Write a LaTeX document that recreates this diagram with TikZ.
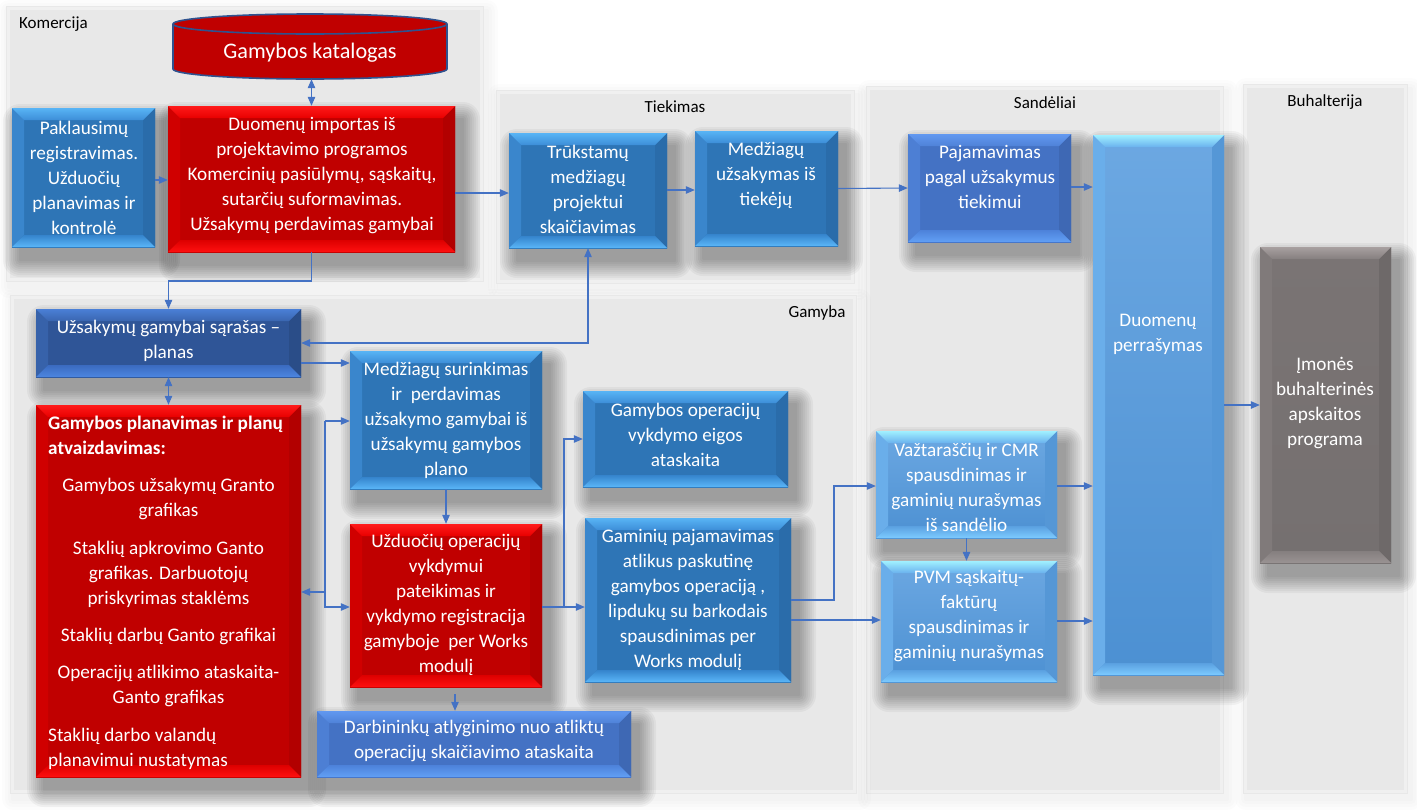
\documentclass[tikz,border=0pt]{standalone}
\usepackage{fontspec}
\setmainfont{Carlito}
\usetikzlibrary{arrows.meta}
\definecolor{arrowc}{HTML}{4472C4}
\definecolor{panelc}{HTML}{E8E8E8}
\definecolor{panelhl}{HTML}{F0F0F0}
\definecolor{katred}{HTML}{C00000}
\definecolor{katline}{HTML}{2F528F}
% blue
\definecolor{blfT}{HTML}{2E75B6}\definecolor{blfB}{HTML}{2E75B6}
\definecolor{blL}{HTML}{3A86CC}\definecolor{blR}{HTML}{2A6CAA}
\definecolor{bltE}{HTML}{58B4F5}\definecolor{bltI}{HTML}{3D8ED8}
\definecolor{blbI}{HTML}{3584CC}\definecolor{blbE}{HTML}{5AB6F8}
% red
\definecolor{rdfT}{HTML}{C00000}\definecolor{rdfB}{HTML}{C00000}
\definecolor{rdL}{HTML}{D00000}\definecolor{rdR}{HTML}{B20000}
\definecolor{rdtE}{HTML}{FF1A1A}\definecolor{rdtI}{HTML}{E80000}
\definecolor{rdbI}{HTML}{DD0000}\definecolor{rdbE}{HTML}{FF1010}
% dark blue
\definecolor{dbfT}{HTML}{2F5597}\definecolor{dbfB}{HTML}{2F5597}
\definecolor{dbL}{HTML}{3762AA}\definecolor{dbR}{HTML}{2A4D88}
\definecolor{dbtE}{HTML}{4A7FD6}\definecolor{dbtI}{HTML}{3A66B0}
\definecolor{dbbI}{HTML}{3B6BC0}\definecolor{dbbE}{HTML}{4D86E0}
% medium blue
\definecolor{mbfT}{HTML}{4472C4}\definecolor{mbfB}{HTML}{4472C4}
\definecolor{mbL}{HTML}{4D7FD4}\definecolor{mbR}{HTML}{3E68B4}
\definecolor{mbtE}{HTML}{6198F0}\definecolor{mbtI}{HTML}{4F82D8}
\definecolor{mbbI}{HTML}{4D82DA}\definecolor{mbbE}{HTML}{62A0F5}
% light blue
\definecolor{lbfT}{HTML}{6CA8E2}\definecolor{lbfB}{HTML}{4C90D2}
\definecolor{lbL}{HTML}{6AAEEA}\definecolor{lbR}{HTML}{5597D6}
\definecolor{lbtE}{HTML}{A0F0FF}\definecolor{lbtI}{HTML}{6AB2EE}
\definecolor{lbbI}{HTML}{5AA0E0}\definecolor{lbbE}{HTML}{7DCBFF}
% gray
\definecolor{grfT}{HTML}{7A7474}\definecolor{grfB}{HTML}{757070}
\definecolor{grL}{HTML}{807A7A}\definecolor{grR}{HTML}{6E6969}
\definecolor{grtE}{HTML}{A8A0A0}\definecolor{grtI}{HTML}{857F7F}
\definecolor{grbI}{HTML}{857F7F}\definecolor{grbE}{HTML}{9A9393}

\newcommand\bvw{12}
\newcommand\boxshadow[4]{%
  \foreach \rr in {1,3,...,17}{%
    \fill[black,opacity=0.04,rounded corners={\rr pt}] ({#1+8-\rr},{#2+13-\rr}) rectangle ({#3+8+\rr},{#4+13+\rr});}}
\newcommand\bevbox[6]{%
  \boxshadow{#2}{#3}{#4}{#5}
  \shade[top color=#6fT, bottom color=#6fB] (#2,#3) rectangle (#4,#5);
  \fill[#6L] (#2,#3) -- ({#2+\bvw},{#3+\bvw}) -- ({#2+\bvw},{#5-\bvw}) -- (#2,#5) -- cycle;
  \fill[#6R] (#4,#3) -- ({#4-\bvw},{#3+\bvw}) -- ({#4-\bvw},{#5-\bvw}) -- (#4,#5) -- cycle;
  \shade[top color=#6tE, bottom color=#6tI] (#2,#3) -- (#4,#3) -- ({#4-\bvw},{#3+\bvw}) -- ({#2+\bvw},{#3+\bvw}) -- cycle;
  \shade[top color=#6bI, bottom color=#6bE] (#2,#5) -- (#4,#5) -- ({#4-\bvw},{#5-\bvw}) -- ({#2+\bvw},{#5-\bvw}) -- cycle;
  \node[inner sep=0pt, minimum width={#4-#2}, minimum height={#5-#3}] (#1) at ({(#2+#4)/2},{(#3+#5)/2}) {};
}
\newcommand\panel[4]{%
  \foreach \rr in {2,5,...,11}{%
    \fill[black,opacity=0.01,rounded corners={\rr pt}] ({#1+3-\rr},{#2+5-\rr}) rectangle ({#3+3+\rr},{#4+5+\rr});}
  \fill[panelc] (#1,#2) rectangle (#3,#4);
  \draw[panelhl, line width=3pt] ({#1+2.5},{#2+2.5}) rectangle ({#3-2.5},{#4-2.5});
}

\begin{document}
\begin{tikzpicture}[x=1pt,y=-1pt,
  arr/.style={draw=arrowc, line width=1.1pt, -{Triangle[length=9pt,width=7.5pt]}},
  darr/.style={draw=arrowc, line width=1.1pt, {Triangle[length=9pt,width=7.5pt]}-{Triangle[length=9pt,width=7.5pt]}},
  boxtext/.style={text=white, font=\fontsize{19.2}{25}\selectfont, align=center, inner sep=0pt},
  lbl/.style={text=black, font=\fontsize{17}{20}\selectfont, inner sep=0pt}]
\fill[white] (0,0) rectangle (1417,809);
\useasboundingbox (0,0) rectangle (1417,809);

% ---------- panels ----------
\panel{6}{6}{484}{282}
\panel{496}{90}{855}{284}
\panel{866}{86}{1224}{794}
\panel{1243}{84}{1408}{794}
\panel{10}{295}{857}{794}
\node[lbl, anchor=west] (lkom) at (19,24) {Komercija};
\node[lbl] (ltie) at (675,107) {Tiekimas};
\node[lbl] (lsan) at (1045,103) {Sandėliai};
\node[lbl] (lbuh) at (1325,102) {Buhalterija};
\node[lbl] (lgam) at (817,313) {Gamyba};

% ---------- catalogue cylinder ----------
\filldraw[fill=katred, draw=katline, line width=1.6pt]
  (173,24) -- (173,69) arc[start angle=180, end angle=0, x radius=137, y radius=10]
  -- (447,24) arc[start angle=0, end angle=-180, x radius=137, y radius=10] -- cycle;
\draw[katline, line width=1.6pt] (173,24) arc[start angle=180, end angle=0, x radius=137, y radius=10];
\node[inner sep=0pt, minimum width=274pt, minimum height=65pt] (kat) at (310,46.5) {};
\node[boxtext, font=\fontsize{22.2}{26}\selectfont] at (310,53) {Gamybos katalogas};

% ---------- boxes ----------
\bevbox{paq}{12}{108}{155}{247}{bl}
\node[boxtext] at (84,178) {Paklausimų\\registravimas.\\Užduočių\\planavimas ir\\kontrolė};

\bevbox{dup}{168}{106}{455}{252}{rd}
\node[boxtext] at (312,176) {Duomenų importas iš\\projektavimo programos\\Komercinių pasiūlymų, sąskaitų,\\sutarčių suformavimas.\\Užsakymų perdavimas gamybai};

\bevbox{tru}{509}{133}{667}{248}{bl}
\node[boxtext] at (588,189) {Trūkstamų\\medžiagų\\projektui\\skaičiavimas};

\bevbox{meu}{695}{131}{838}{246}{bl}
\node[boxtext] at (766,175) {Medžiagų\\užsakymas iš\\tiekėjų};

\bevbox{paj}{908}{134}{1071}{242}{mb}
\node[boxtext] at (990,177) {Pajamavimas\\pagal užsakymus\\tiekimui};

\bevbox{perr}{1093}{135}{1224}{675}{lb}
\node[boxtext] at (1158,334) {Duomenų\\perrašymas};

\bevbox{imo}{1260}{247}{1391}{563}{gr}
\node[boxtext] at (1325,403) {Įmonės\\buhalterinės\\apskaitos\\programa};

\bevbox{uzs}{36}{309}{301}{377}{db}
\node[boxtext] at (168.5,341) {Užsakymų gamybai sąrašas –\\planas};

\bevbox{gpl}{36}{405}{301}{777}{rd}
\node[boxtext, anchor=west, align=left, font=\fontsize{19.2}{25}\selectfont\bfseries] at (48,435) {Gamybos planavimas ir planų\\atvaizdavimas:};
\node[boxtext] at (168.5,498.5) {Gamybos užsakymų Granto\\grafikas};
\node[boxtext] at (168.5,574) {Staklių apkrovimo Ganto\\grafikas. Darbuotojų\\priskyrimas staklėms};
\node[boxtext] at (168.5,636) {Staklių darbų Ganto grafikai};
\node[boxtext] at (168.5,686) {Operacijų atlikimo ataskaita-\\Ganto grafikas};
\node[boxtext, anchor=west, align=left] at (48,748.5) {Staklių darbo valandų\\planavimui nustatymas};

\bevbox{msu}{350}{351}{542}{489}{bl}
\node[boxtext] at (446,420) {Medžiagų surinkimas\\ir\ \ perdavimas\\užsakymo gamybai iš\\užsakymų gamybos\\plano};

\bevbox{uzd}{350}{524}{542}{687}{rd}
\node[boxtext] at (446,605) {Užduočių operacijų\\vykdymui\\pateikimas ir\\vykdymo registracija\\gamyboje\ \ per Works\\modulį};

\bevbox{dar}{317}{711}{631}{777}{mb}
\node[boxtext] at (474,741) {Darbininkų atlyginimo nuo atliktų\\operacijų skaičiavimo ataskaita};

\bevbox{gop}{583}{391}{788}{487}{bl}
\node[boxtext] at (685.5,435) {Gamybos operacijų\\vykdymo eigos\\ataskaita};

\bevbox{gam}{585}{518}{791}{682}{bl}
\node[boxtext] at (688,600) {Gaminių pajamavimas\\atlikus paskutinę\\gamybos operaciją ,\\lipdukų su barkodais\\spausdinimas per\\Works modulį};

\bevbox{vaz}{876}{431}{1057}{538}{lb}
\node[boxtext] at (966.5,487) {Važtaraščių ir CMR\\spausdinimas ir\\gaminių nurašymas\\iš sandėlio};

\bevbox{pvm}{881}{561}{1057}{682}{lb}
\node[boxtext] at (969,616) {PVM sąskaitų-\\faktūrų\\spausdinimas ir\\gaminių nurašymas};

% ---------- connectors ----------
\draw[darr] (dup.north) -- (dup.north |- kat.south);
\draw[arr] (paq.east |- 0,180) -- (dup.west |- 0,180);
\draw[arr] (dup.south) -- (dup.south |- 0,281) -| (uzs.north);
\draw[arr] (dup.east |- 0,193) -- (tru.west |- 0,193);
\draw[arr] (tru.east |- 0,190) -- (meu.west |- 0,190);
\draw[arr] (meu.east) -- (paj.west);
\draw[arr] (paj.east |- 0,187) -- (perr.west |- 0,187);
\draw[darr] (tru.south) -- (tru.south |- 0,343) -- (uzs.east |- 0,343);
\draw[arr] (uzs.east |- 0,363) -- (msu.west |- 0,363);
\draw[darr] (uzs.south) -- (gpl.north);
\coordinate (b1) at (325,421);
\coordinate (b2) at (325,607);
\coordinate (b3) at (325,592);
\draw[arr] (b1) -- (msu.west |- b1);
\draw[arr] (b1) -- (b2) -- (uzd.west |- b2);
\draw[arr] (b3) -- (gpl.east |- b3);
\draw[arr] (msu.south) -- (uzd.north);
\coordinate (j1) at (564,607);
\draw[arr] (uzd.east |- j1) -- (gam.west |- j1);
\draw[arr] (j1) |- (gop.west |- 0,439);
\coordinate (d0) at (455,694);
\draw[arr] (d0) -- (dar.north -| d0);
\coordinate (j2) at (834,600);
\draw[arr] (gam.east |- j2) -- (j2) |- (vaz.west |- 0,486);
\draw[arr] (gam.east |- 0,620) -- (pvm.west |- 0,620);
\draw[arr] (vaz.east |- 0,486) -- (perr.west |- 0,486);
\draw[arr] (vaz.south) -- (vaz.south |- pvm.north);
\draw[arr] (pvm.east |- 0,621) -- (perr.west |- 0,621);
\draw[arr] (perr.east |- 0,405) -- (imo.west |- 0,405);
\end{tikzpicture}
\end{document}
